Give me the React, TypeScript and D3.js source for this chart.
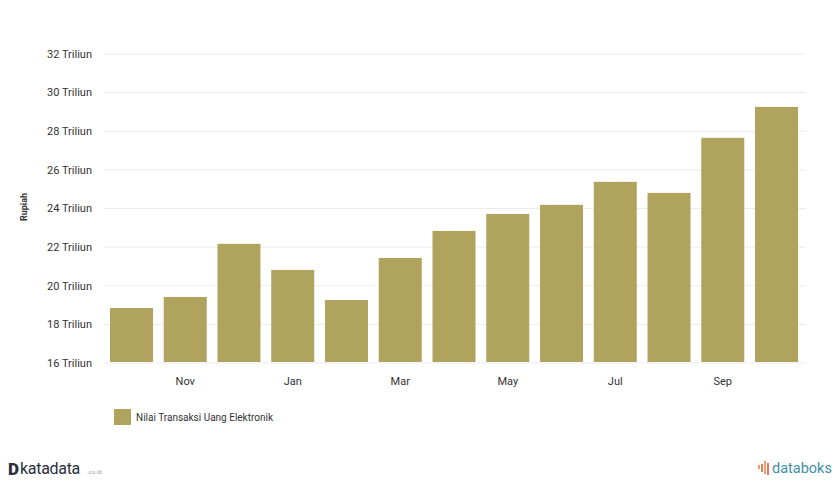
import React from "react";
import * as d3 from "d3";

const months = ["2022-10", "2022-11", "2022-12", "2023-01", "2023-02", "2023-03", "2023-04", "2023-05", "2023-06", "2023-07", "2023-08", "2023-09", "2023-10"];
const monthLabels = ["Oct", "Nov", "Dec", "Jan", "Feb", "Mar", "Apr", "May", "Jun", "Jul", "Aug", "Sep", "Oct"];
const values = [18.85, 19.42, 22.17, 20.82, 19.26, 21.44, 22.84, 23.72, 24.19, 25.38, 24.81, 27.66, 29.26];
const yTicks = [16, 18, 20, 22, 24, 26, 28, 30, 32];
const seriesName = "Nilai Transaksi Uang Elektronik";
const yAxisTitle = "Rupiah";

const W = 836;
const H = 485;
const BAR = "#b0a35e";
const FONT = "Roboto, 'Noto Sans', sans-serif";

export default function App() {
  const x = d3.scaleBand<string>().domain(months).range([104.6, 803.4]).paddingInner(0.2).paddingOuter(0.1);
  const y = d3.scaleLinear().domain([16, 32]).range([363, 54]);

  return (
    <div style={{ position: "absolute", left: 0, top: 0 }}>
      <svg width={W} height={H} style={{ display: "block", background: "#fff" }} fontFamily={FONT}>
        {yTicks.map((t) => (
          <g key={t}>
            <line x1={104} x2={806} y1={y(t)} y2={y(t)} stroke="#ececec" strokeWidth={1} />
            <text x={92} y={y(t)} dy="0.35em" textAnchor="end" fontSize={11} fill="#333">
              {t} Triliun
            </text>
          </g>
        ))}
        <text transform={`translate(27,207) rotate(-90)`} textAnchor="middle" fontSize={9} fontWeight={700} fill="#333">
          {yAxisTitle}
        </text>
        {months.map((m, i) => (
          <rect key={m} x={x(m)} y={y(values[i])} width={x.bandwidth()} height={y(16) - y(values[i]) - 1} fill={BAR} />
        ))}
        {months.map((m, i) =>
          i % 2 === 1 ? (
            <text key={m} x={(x(m) as number) + x.bandwidth() / 2} y={385} textAnchor="middle" fontSize={11} fill="#333">
              {monthLabels[i]}
            </text>
          ) : null
        )}
        <rect x={114} y={409} width={17} height={16} fill={BAR} />
        <text x={136} y={421} fontSize={10} fill="#333">{seriesName}</text>

        <g>
          <text x={8} y={475} fontSize={17} fontWeight={900} fill="#2a2e3d">D</text>
          <text x={20} y={474} fontSize={16} fill="#2a2e3d" letterSpacing={-0.3}>katadata</text>
          <text x={87} y={474} fontSize={6} fill="#9a9ea8">.co.id</text>
        </g>
        <g>
          <line x1={762} x2={762} y1={464} y2={472} stroke="#e5573a" strokeWidth={1.6} />
          <line x1={765} x2={765} y1={461} y2={474} stroke="#f08a3c" strokeWidth={1.6} />
          <line x1={768} x2={768} y1={463} y2={475} stroke="#e5573a" strokeWidth={1.6} />
          <line x1={759} x2={759} y1={465} y2={469} stroke="#f08a3c" strokeWidth={1.6} />
          <text x={772} y={473} fontSize={14.5} fill="#3f91a3">databoks</text>
        </g>
      </svg>
    </div>
  );
}
